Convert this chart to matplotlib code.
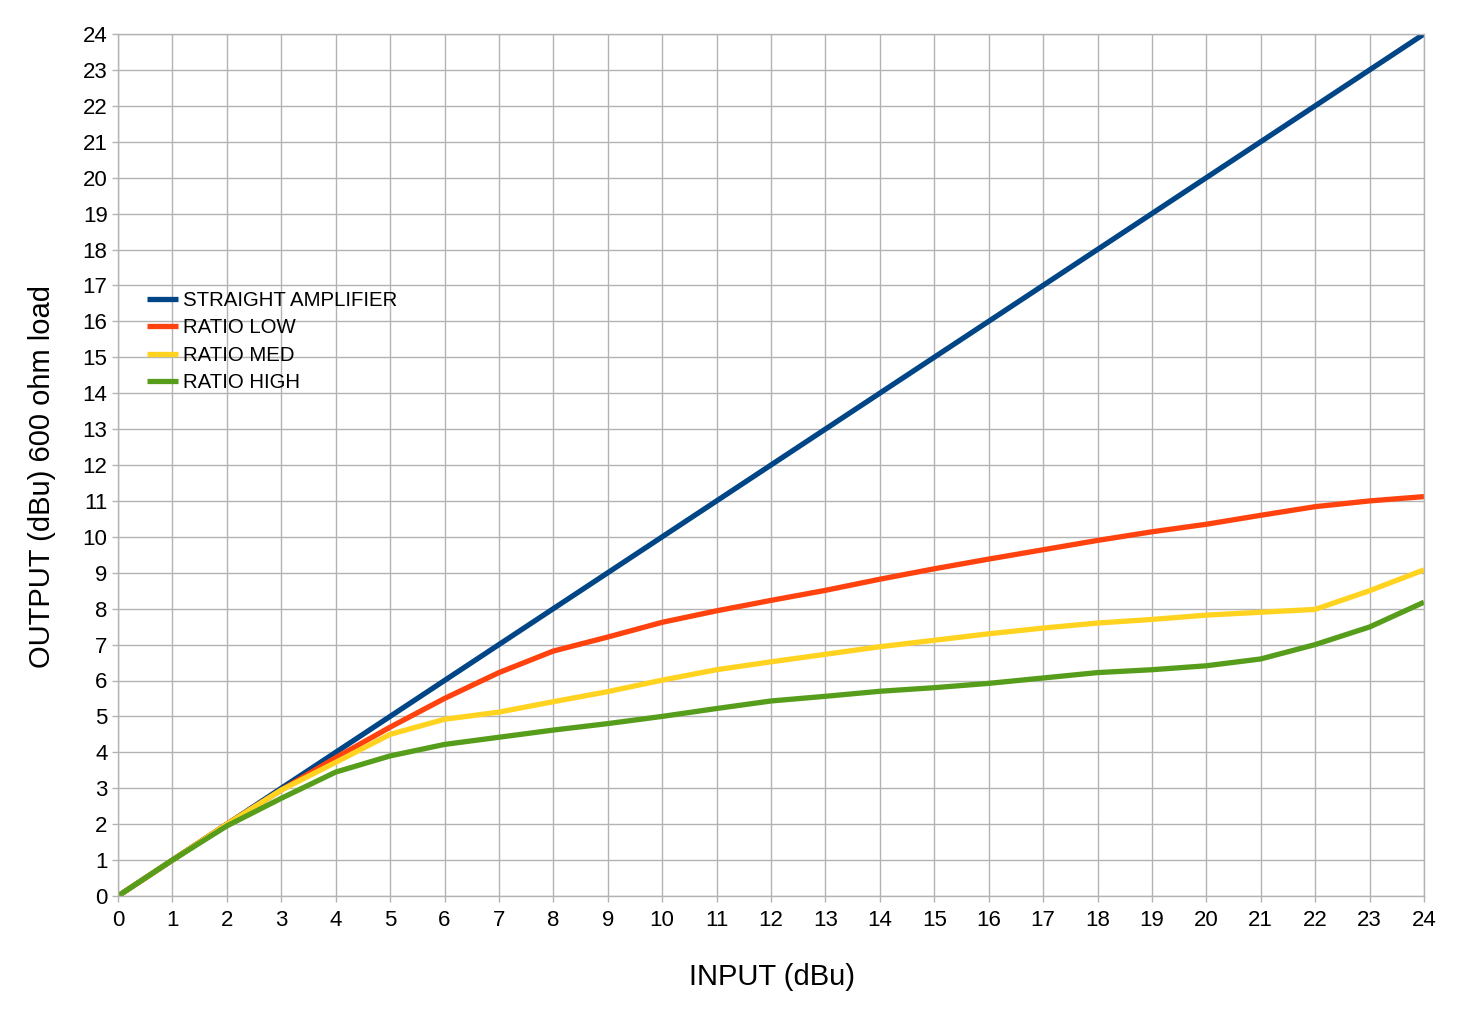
import matplotlib
matplotlib.use("Agg")
import matplotlib.pyplot as plt

x_in = list(range(0, 25))
straight = list(range(0, 25))
ratio_low = [0, 1, 2, 2.95, 3.85, 4.7, 5.5, 6.22, 6.82, 7.21, 7.62, 7.94, 8.23, 8.51, 8.82, 9.11,
             9.38, 9.64, 9.9, 10.14, 10.35, 10.6, 10.84, 11.0, 11.12]
ratio_med = [0, 1, 2, 2.95, 3.72, 4.5, 4.92, 5.12, 5.41, 5.69, 6.01, 6.3, 6.52, 6.73, 6.94, 7.12,
             7.3, 7.46, 7.6, 7.7, 7.82, 7.9, 7.98, 8.5, 9.08]
ratio_high = [0, 1, 1.95, 2.72, 3.45, 3.9, 4.22, 4.42, 4.62, 4.8, 5.0, 5.22, 5.43, 5.56, 5.7, 5.8,
              5.92, 6.07, 6.22, 6.3, 6.41, 6.6, 7.0, 7.49, 8.18]
series_names = ["STRAIGHT AMPLIFIER", "RATIO LOW", "RATIO MED", "RATIO HIGH"]
colors = ["#004586", "#ff420e", "#ffd320", "#579d1c"]

plt.rcParams['font.family'] = ['Liberation Sans', 'DejaVu Sans']

W, H = 1481, 1018
fig = plt.figure(figsize=(W / 100, H / 100), dpi=100)
ax = fig.add_axes([118 / W, 1 - 896 / H, (1424 - 118) / W, (896 - 34) / H])

for ys, c, n in zip([straight, ratio_low, ratio_med, ratio_high], colors, series_names):
    ax.plot(x_in, ys, color=c, lw=3.8, label=n, solid_capstyle='butt', solid_joinstyle='round')

ax.set_xlim(0, 24)
ax.set_ylim(0, 24)
ax.set_xticks(range(0, 25))
ax.set_yticks(range(0, 25))
ax.grid(True, color="#b3b3b3", lw=1)
ax.set_axisbelow(True)
for s in ax.spines.values():
    s.set_color("#b3b3b3")
    s.set_linewidth(1)
ax.tick_params(axis='both', labelsize=16, color="#b3b3b3", length=4.5, width=1, pad=3)
ax.tick_params(axis='x', pad=5.5)

fig.text(772 / W, 1 - 977 / H, "INPUT (dBu)", fontsize=21, ha='center', va='center')
fig.text(42 / W, 1 - 477 / H, "OUTPUT (dBu) 600 ohm load", fontsize=21, ha='center', va='center',
         rotation=90)

fig.legend(loc='upper left', bbox_to_anchor=(147 / W, 1 - 291 / H), frameon=False, fontsize=14.7,
           handlelength=1.5, handletextpad=0.25, labelspacing=0.41, borderpad=0, borderaxespad=0)

fig.savefig("out.png", dpi=100)
